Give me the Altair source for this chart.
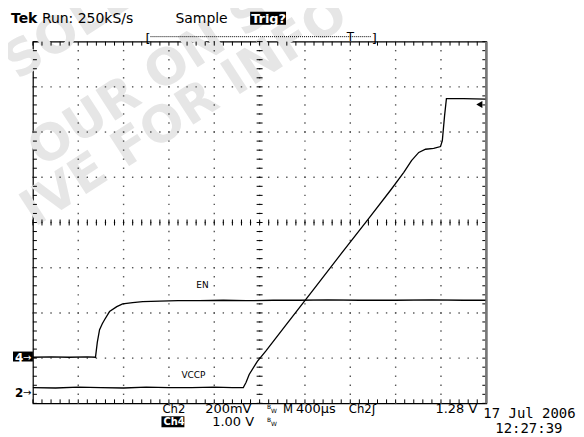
import altair as alt
import pandas as pd
import numpy as np

# ---------------- geometry (pixels) ----------------
W, H = 455, 363          # graticule: 10 x 8 divisions
X0, Y0 = 33, 41          # top-left of graticule on the page

def dx(px):  # page x pixel -> divisions
    return (px - X0) / (W / 10)

def dy(py):  # page y pixel -> divisions
    return (Y0 + H - py) / (H / 8)

# ---------------- trace data (divisions) ----------------
en_x = [0.0, 0.4, 0.8, 1.2, 1.38, 1.42, 1.47, 1.53, 1.58, 1.69, 1.85, 1.98, 2.2,
        2.42, 2.8, 3.2, 3.67, 4.2, 4.7, 5.3, 5.87, 6.5, 7.2, 8.0, 8.8, 9.5, 9.98]
en_y = [1.02, 1.03, 1.02, 1.03, 1.02, 1.35, 1.63, 1.76, 1.85, 2.03, 2.14, 2.20, 2.23,
        2.25, 2.26, 2.27, 2.27, 2.28, 2.27, 2.28, 2.28, 2.29, 2.28, 2.28, 2.29, 2.28, 2.28]

vccp_x = [0.0, 0.5, 1.0, 1.5, 2.0, 2.5, 3.0, 3.5, 4.0, 4.4, 4.64, 4.70, 4.77, 4.95,
          5.14, 5.6, 6.2, 6.8, 7.4, 7.9, 8.18, 8.35, 8.51, 8.66, 8.84, 8.99, 9.03,
          9.08, 9.12, 9.5, 9.98]
vccp_y = [0.35, 0.34, 0.36, 0.35, 0.34, 0.36, 0.35, 0.35, 0.36, 0.35, 0.35, 0.46, 0.64,
          0.93, 1.16, 1.76, 2.53, 3.31, 4.08, 4.73, 5.11, 5.37, 5.55, 5.62, 5.64, 5.68,
          5.81, 6.37, 6.74, 6.74, 6.73]

traces = pd.concat([
    pd.DataFrame({"t": en_x, "v": en_y, "ch": "EN", "i": range(len(en_x))}),
    pd.DataFrame({"t": vccp_x, "v": vccp_y, "ch": "VCCP", "i": range(len(vccp_x))}),
])

xs = alt.Scale(domain=[0, 10], nice=False, zero=False)
ys = alt.Scale(domain=[0, 8], nice=False, zero=False)

# ---------------- graticule ----------------
minor = np.round(np.arange(0, 10.0001, 0.2), 2)
minor_y = np.round(np.arange(0, 8.0001, 0.2), 2)
dots = []
for gx in range(1, 10):
    for v in minor_y:
        dots.append({"gx": gx, "gy": v})
for gy in range(1, 8):
    for u in minor:
        dots.append({"gx": u, "gy": gy})
dots_df = pd.DataFrame(dots)
grid = alt.Chart(dots_df).mark_square(size=2, color="#555", opacity=1).encode(
    x=alt.X("gx:Q", scale=xs, axis=None), y=alt.Y("gy:Q", scale=ys, axis=None))

tl = 4 / (H / 8)   # 4px tick in y-divisions
tlx = 4 / (W / 10)
ct = 3 / (H / 8)
ctx = 3 / (W / 10)
ticks = []
for u in minor:
    ticks.append({"a": u, "a2": u, "b": 8, "b2": 8 - tl})
    ticks.append({"a": u, "a2": u, "b": 0, "b2": tl})
    ticks.append({"a": u, "a2": u, "b": 4 - ct, "b2": 4 + ct})
for v in minor_y:
    ticks.append({"a": 0, "a2": tlx, "b": v, "b2": v})
    ticks.append({"a": 10 - tlx, "a2": 10, "b": v, "b2": v})
    ticks.append({"a": 5 - ctx, "a2": 5 + ctx, "b": v, "b2": v})
ticks_df = pd.DataFrame(ticks)
tick_layer = alt.Chart(ticks_df).mark_rule(color="#000", strokeWidth=1).encode(
    x=alt.X("a:Q", scale=xs, axis=None), x2="a2:Q",
    y=alt.Y("b:Q", scale=ys, axis=None), y2="b2:Q")

right_edge = alt.Chart(pd.DataFrame({"a": [10]})).mark_rule(
    color="#777", strokeWidth=2.5).encode(
    x=alt.X("a:Q", scale=xs, axis=None), y=alt.value(0), y2=alt.value(H))

# ---------------- traces ----------------
lines = alt.Chart(traces).mark_line(color="#000", strokeWidth=1.3,
                                    interpolate="linear").encode(
    x=alt.X("t:Q", scale=xs, axis=None),
    y=alt.Y("v:Q", scale=ys, axis=None),
    detail="ch:N", order="i:Q")

# trigger level marker
trig = pd.DataFrame({"a": [dx(481)], "b": [dy(104)]})
trig_mark = alt.Chart(trig).mark_point(shape="triangle-left", filled=True,
                                       size=50, color="#000", opacity=1).encode(
    x=alt.X("a:Q", scale=xs, axis=None), y=alt.Y("b:Q", scale=ys, axis=None))

# ---------------- inverted boxes ----------------
boxes = pd.DataFrame({
    "a": [dx(251), dx(162), dx(13)],
    "a2": [dx(287), dx(185), dx(33)],
    "b": [dy(11), dy(417), dy(352)],
    "b2": [dy(24), dy(428), dy(362)],
})
box_layer = alt.Chart(boxes).mark_rect(color="#000").encode(
    x=alt.X("a:Q", scale=xs, axis=None), x2="a2:Q",
    y=alt.Y("b:Q", scale=ys, axis=None), y2="b2:Q")

# ---------------- texts ----------------
# text, left x px, baseline y px, size, font, colour, weight
SANS = "DejaVu Sans"
COND = "DejaVu Sans Condensed"
MONO = "DejaVu Sans Mono"
labels = [
    ("Tek", 11, 22, 14, SANS, "#000", "bold"),
    ("Run: 250kS/s", 42, 22, 14, SANS, "#000", "normal"),
    ("Sample", 176, 22, 14, SANS, "#000", "normal"),
    ("Trig?", 252, 22, 13, SANS, "#fff", "bold"),
    ("[", 146, 41, 13, SANS, "#000", "normal"),
    ("T", 348, 40, 12, SANS, "#000", "normal"),
    ("]", 373, 41, 13, SANS, "#000", "normal"),
    ("EN", 197, 288, 9, SANS, "#000", "normal"),
    ("VCCP", 182, 379, 9, SANS, "#000", "normal"),
    ("4", 15, 362, 12, SANS, "#fff", "bold"),
    ("→", 23, 361, 10, SANS, "#fff", "normal"),
    ("2", 15, 398, 12, SANS, "#000", "bold"),
    ("→", 23, 397, 10, SANS, "#000", "normal"),
    ("Ch2", 163, 414, 13, COND, "#000", "normal"),
    ("200mV", 206, 414, 13, SANS, "#000", "normal"),
    ("B", 268, 410, 6, SANS, "#000", "normal"),
    ("W", 272, 414, 6, SANS, "#000", "normal"),
    ("M", 284, 414, 13, COND, "#000", "normal"),
    ("400µs", 297, 414, 13, SANS, "#000", "normal"),
    ("Ch2", 350, 414, 13, COND, "#000", "normal"),
    ("ʃ", 373, 414, 13, SANS, "#000", "normal"),
    ("1.28 V", 437, 414, 13, SANS, "#000", "normal"),
    ("Ch4", 164, 426, 11, COND, "#fff", "bold"),
    ("1.00 V", 213, 427, 13, SANS, "#000", "normal"),
    ("B", 268, 423, 6, SANS, "#000", "normal"),
    ("W", 272, 427, 6, SANS, "#000", "normal"),
    ("17 Jul 2006", 485, 419, 14, MONO, "#000", "normal"),
    ("12:27:39", 497, 434, 14, MONO, "#000", "normal"),
]
lab_df = pd.DataFrame(labels, columns=["txt", "px", "py", "fs", "font", "col", "wt"])
lab_df["a"] = lab_df["px"].map(dx)
lab_df["b"] = lab_df["py"].map(dy)

def text_layer(df, font, weight):
    sub = df[(df["font"] == font) & (df["wt"] == weight)]
    return alt.Chart(sub).mark_text(align="left", baseline="alphabetic",
                                    font=font, fontWeight=weight).encode(
        x=alt.X("a:Q", scale=xs, axis=None), y=alt.Y("b:Q", scale=ys, axis=None),
        text="txt:N", size=alt.Size("fs:Q", scale=None),
        color=alt.Color("col:N", scale=None))

text_layers = [text_layer(lab_df, f, w)
               for f, w in lab_df[["font", "wt"]].drop_duplicates().itertuples(index=False)]

# dotted record-length bracket line
brk = pd.DataFrame({"a": [dx(151)], "a2": [dx(373)], "b": [dy(36)]})
brk_layer = alt.Chart(brk).mark_rule(color="#000", strokeWidth=1, strokeDash=[1, 1]).encode(
    x=alt.X("a:Q", scale=xs, axis=None), x2="a2:Q", y=alt.Y("b:Q", scale=ys, axis=None))

# ---------------- faint watermark ----------------
wm = pd.DataFrame({
    "txt": ["SOLE", "OUR ON S", "IVE FOR INFO"],
    "a": [dx(70), dx(150), dx(185)],
    "b": [dy(28), dy(80), dy(112)],
})
wm_layer = alt.Chart(wm).mark_text(font=SANS, fontWeight="bold", fontSize=50,
                                   angle=327, color="#e6e6e6", align="center",
                                   baseline="middle").encode(
    x=alt.X("a:Q", scale=xs, axis=None), y=alt.Y("b:Q", scale=ys, axis=None),
    text="txt:N")

chart = alt.layer(
    wm_layer, grid, tick_layer, right_edge, lines, trig_mark, box_layer,
    brk_layer, *text_layers
).properties(
    width=W, height=H,
    autosize=alt.AutoSizeParams(type="none"),
    padding={"left": 25, "top": 33, "right": 90, "bottom": 29},
    background="#ffffff",
).configure_view(stroke="#000", strokeWidth=1.2)

chart.save("out.html", embed_options={"renderer": "svg", "actions": False})
